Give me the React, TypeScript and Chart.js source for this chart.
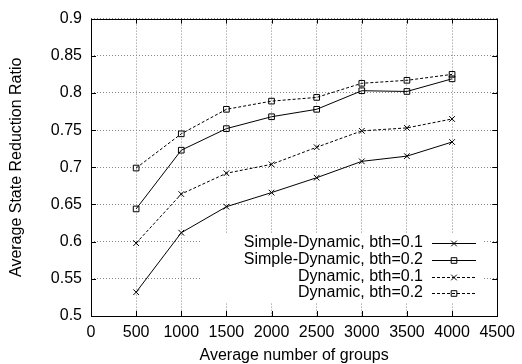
import React, { useEffect, useRef } from "react";
import { Chart, registerables } from "chart.js";

Chart.register(...registerables);

const groups = [500, 1000, 1500, 2000, 2500, 3000, 3500, 4000];
const simpleDyn01 = [0.532, 0.612, 0.647, 0.666, 0.686, 0.708, 0.715, 0.734];
const simpleDyn02 = [0.644, 0.723, 0.752, 0.768, 0.778, 0.803, 0.802, 0.819];
const dyn01 = [0.598, 0.664, 0.692, 0.704, 0.727, 0.749, 0.753, 0.765];
const dyn02 = [0.699, 0.745, 0.778, 0.789, 0.794, 0.813, 0.817, 0.825];
const seriesLabels = [
  "Simple-Dynamic, bth=0.1",
  "Simple-Dynamic, bth=0.2",
  "Dynamic, bth=0.1",
  "Dynamic, bth=0.2",
];
const xTicks = [0, 500, 1000, 1500, 2000, 2500, 3000, 3500, 4000, 4500];
const yTicks = [0.5, 0.55, 0.6, 0.65, 0.7, 0.75, 0.8, 0.85, 0.9];

const FONT = "'Liberation Sans', Arial, Helvetica, sans-serif";
const FS = 16;

export default function App() {
  const ref = useRef<HTMLCanvasElement>(null);
  useEffect(() => {
    const canvas = ref.current;
    if (!canvas) return;
    const seriesValues = [simpleDyn01, simpleDyn02, dyn01, dyn02];
    const styles = [
      { dash: [], point: "crossRot" },
      { dash: [], point: "rect" },
      { dash: [3, 2], point: "crossRot" },
      { dash: [3, 2], point: "rect" },
    ];
    const datasets = seriesValues.map((vals, i) => ({
      label: seriesLabels[i],
      data: vals.map((v, j) => ({ x: groups[j], y: v })),
      borderColor: "#000",
      borderWidth: 1,
      borderDash: styles[i].dash,
      pointStyle: styles[i].point,
      pointRadius: 4,
      pointBorderWidth: 1,
      pointBorderColor: "#000",
      pointBackgroundColor: "rgba(0,0,0,0)",
      fill: false,
      tension: 0,
    }));

    const keyPlugin = {
      id: "keyPlugin",
      beforeDatasetsDraw(chart: any) {
        const ctx = chart.ctx;
        ctx.save();
        ctx.fillStyle = "#fff";
        ctx.fillRect(201, 234, 283, 68);
        ctx.restore();
      },
      afterDraw(chart: any) {
        const ctx = chart.ctx;
        const a = chart.chartArea;
        ctx.save();
        ctx.strokeStyle = "#000";
        ctx.lineWidth = 1;
        ctx.setLineDash([]);
        ctx.strokeRect(Math.round(a.left) + 0.5, Math.round(a.top) + 0.5, Math.round(a.right - a.left), Math.round(a.bottom - a.top));
        const xs = chart.scales.x;
        const ys = chart.scales.y;
        const tl = 5;
        ctx.beginPath();
        xTicks.forEach((t) => {
          const px = Math.round(xs.getPixelForValue(t)) + 0.5;
          ctx.moveTo(px, a.bottom);
          ctx.lineTo(px, a.bottom - tl);
          ctx.moveTo(px, a.top);
          ctx.lineTo(px, a.top + tl);
        });
        yTicks.forEach((t) => {
          const py = Math.round(ys.getPixelForValue(t)) + 0.5;
          ctx.moveTo(a.left, py);
          ctx.lineTo(a.left + tl, py);
          ctx.moveTo(a.right, py);
          ctx.lineTo(a.right - tl, py);
        });
        ctx.stroke();
        ctx.font = FS + "px " + FONT;
        ctx.fillStyle = "#000";
        ctx.textAlign = "right";
        ctx.textBaseline = "middle";
        const rows = [243, 260, 276.5, 293];
        chart.data.datasets.forEach((ds: any, i: number) => {
          const y = rows[i];
          ctx.fillText(ds.label, 423, y);
          ctx.beginPath();
          ctx.setLineDash(ds.borderDash);
          ctx.lineWidth = 1;
          ctx.strokeStyle = "#000";
          ctx.moveTo(432, Math.round(y) + 0.5);
          ctx.lineTo(476, Math.round(y) + 0.5);
          ctx.stroke();
          ctx.setLineDash([]);
          ctx.beginPath();
          const cx = 454, cy = Math.round(y) + 0.5;
          if (ds.pointStyle === "rect") {
            ctx.rect(cx - 2.8, cy - 2.8, 5.6, 5.6);
          } else {
            ctx.moveTo(cx - 2.8, cy - 2.8);
            ctx.lineTo(cx + 2.8, cy + 2.8);
            ctx.moveTo(cx - 2.8, cy + 2.8);
            ctx.lineTo(cx + 2.8, cy - 2.8);
          }
          ctx.stroke();
        });
        ctx.restore();
      },
    };

    const chart = new Chart(canvas, {
      type: "line",
      data: { datasets: datasets as any },
      options: {
        animation: false,
        responsive: false,
        layout: { padding: { top: 14, right: 22, left: 0, bottom: 0 } },
        plugins: { legend: { display: false }, tooltip: { enabled: false } },
        scales: {
          x: {
            type: "linear",
            min: 0,
            max: 4500,
            afterBuildTicks: (s: any) => {
              s.ticks = xTicks.map((v) => ({ value: v }));
            },
            afterFit: (s: any) => {
              s.height = 48;
            },
            grid: { color: "#888", drawTicks: false, lineWidth: 1 },
            border: { display: false, dash: [1, 2] },
            ticks: {
              padding: 7,
              color: "#000",
              maxRotation: 0,
              autoSkip: false,
              font: { family: FONT, size: FS },
              callback: (v: any) => String(v),
            },
            title: {
              display: true,
              text: "Average number of groups",
              color: "#000",
              font: { family: FONT, size: FS, lineHeight: 1 },
              padding: { top: 0, bottom: 0 },
            },
          },
          y: {
            type: "linear",
            min: 0.5,
            max: 0.9,
            afterBuildTicks: (s: any) => {
              s.ticks = yTicks.map((v) => ({ value: v }));
            },
            afterFit: (s: any) => {
              s.width = 91;
            },
            grid: { color: "#888", drawTicks: false, lineWidth: 1 },
            border: { display: false, dash: [1, 2] },
            ticks: {
              padding: 9,
              color: "#000",
              autoSkip: false,
              font: { family: FONT, size: FS },
              callback: (v: any) => String(+Number(v).toFixed(2)),
            },
            title: {
              display: true,
              text: "Average State Reduction Ratio",
              color: "#000",
              font: { family: FONT, size: FS, lineHeight: 1 },
              padding: { top: 9, bottom: 0 },
            },
          },
        },
      },
      plugins: [keyPlugin],
    });
    return () => chart.destroy();
  }, []);
  return (
    <div style={{ position: "absolute", left: 0, top: 0, width: 522, height: 364, background: "#fff" }}>
      <canvas ref={ref} width={522} height={364} style={{ display: "block" }} />
    </div>
  );
}
